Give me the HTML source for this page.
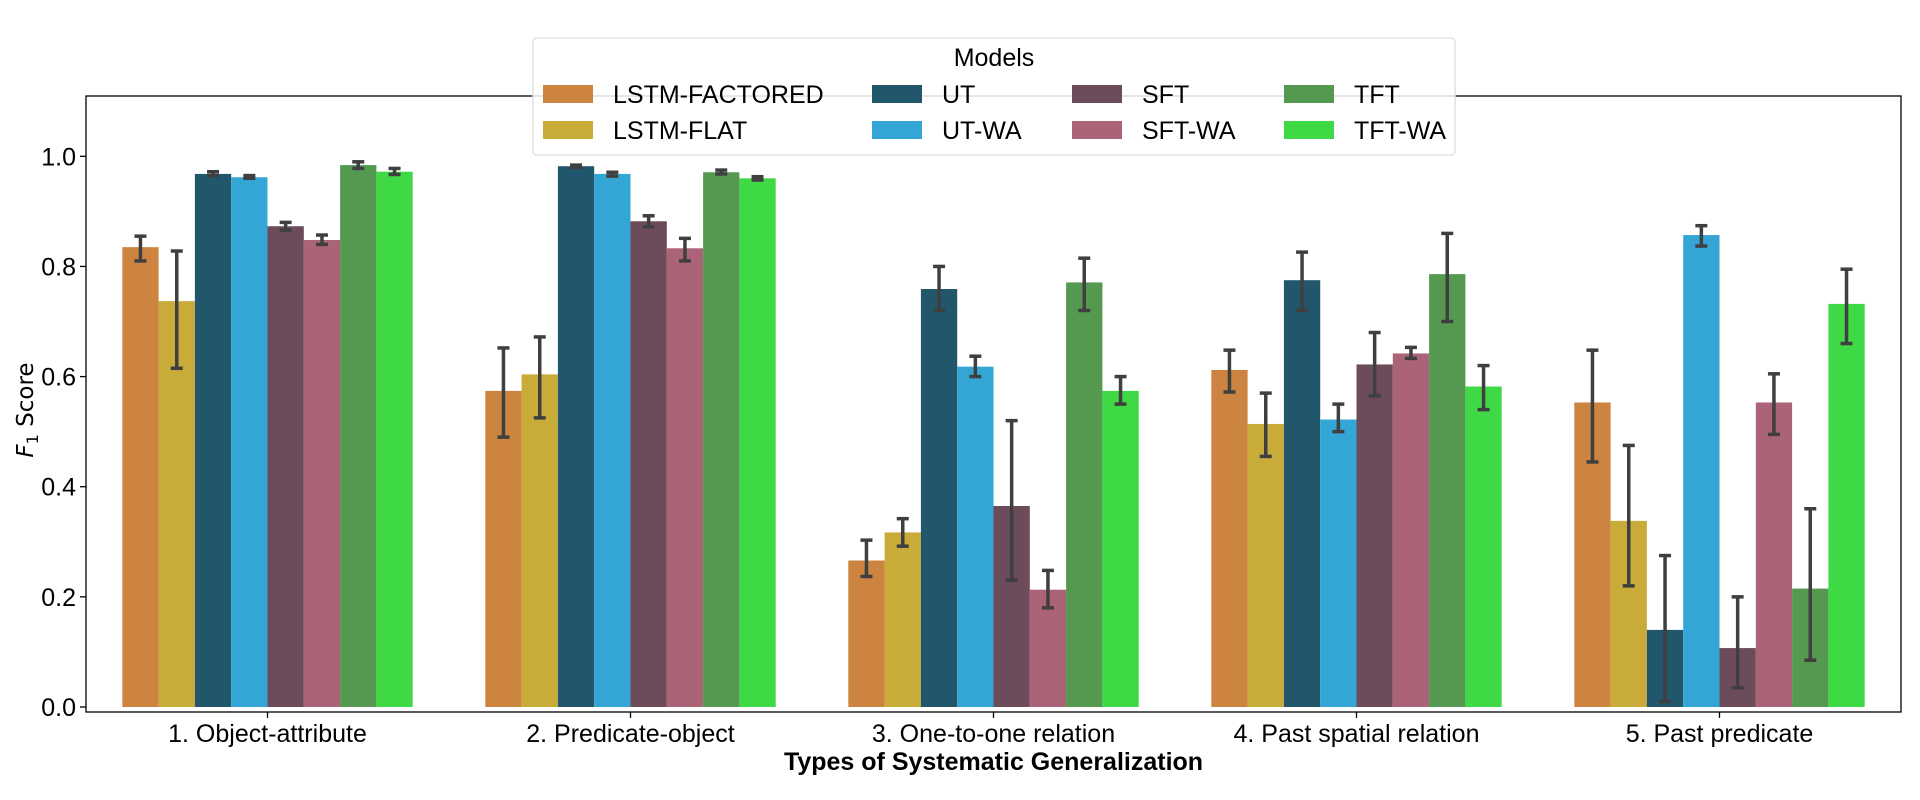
<!DOCTYPE html>
<html><head><meta charset="utf-8">
<style>
html,body{margin:0;padding:0;background:#fff;}
svg{display:block;font-family:"Liberation Sans",sans-serif;}
</style></head>
<body>
<svg id="chart" width="1920" height="800" viewBox="0 0 1920 800" xmlns="http://www.w3.org/2000/svg">
<g id="bars"></g>
<g id="axes"></g>
<g id="legend"></g>
</svg>
<script>
const categories = ["1. Object-attribute","2. Predicate-object","3. One-to-one relation","4. Past spatial relation","5. Past predicate"];
const models = ["LSTM-FACTORED","LSTM-FLAT","UT","UT-WA","SFT","SFT-WA","TFT","TFT-WA"];
const colors = ["#cc8440","#c9ab3a","#22566b","#34a6d6","#6c4b5a","#ab6378","#54994f","#3fd946"];
const valLSTMF = [0.835,0.574,0.266,0.612,0.553];
const valLSTMFlat = [0.737,0.604,0.317,0.514,0.338];
const valUT = [0.968,0.982,0.759,0.775,0.140];
const valUTWA = [0.962,0.968,0.618,0.522,0.857];
const valSFT = [0.873,0.882,0.365,0.622,0.107];
const valSFTWA = [0.848,0.833,0.213,0.642,0.553];
const valTFT = [0.984,0.971,0.771,0.786,0.215];
const valTFTWA = [0.972,0.960,0.574,0.582,0.732];
const errLo = [
 [0.810,0.490,0.237,0.572,0.445],
 [0.615,0.525,0.292,0.455,0.220],
 [0.965,0.980,0.720,0.720,0.010],
 [0.960,0.964,0.600,0.500,0.837],
 [0.866,0.872,0.230,0.565,0.035],
 [0.840,0.810,0.180,0.633,0.495],
 [0.978,0.968,0.720,0.700,0.085],
 [0.967,0.957,0.550,0.540,0.660]];
const errHi = [
 [0.855,0.652,0.303,0.648,0.648],
 [0.828,0.672,0.342,0.570,0.475],
 [0.972,0.984,0.800,0.826,0.275],
 [0.965,0.971,0.637,0.550,0.874],
 [0.880,0.892,0.520,0.680,0.200],
 [0.857,0.851,0.248,0.653,0.605],
 [0.990,0.975,0.815,0.860,0.360],
 [0.978,0.963,0.600,0.620,0.795]];
const series = [valLSTMF,valLSTMFlat,valUT,valUTWA,valSFT,valSFTWA,valTFT,valTFTWA];
const yTicks = [0.0,0.2,0.4,0.6,0.8,1.0];

const NS="http://www.w3.org/2000/svg";
const L=86, R=1901, T=96, B=712;
const y0=707, y1=156.3;
function yScale(v){return y0+(y1-y0)*v;}
const unit=(R-L)/categories.length;
function xCenter(i){return L+unit*(i+0.5);}
const bw=unit*0.1;
function mk(tag,attrs,parent,text){const e=document.createElementNS(NS,tag);for(const k in attrs)e.setAttribute(k,attrs[k]);if(text!==undefined)e.textContent=text;parent.appendChild(e);return e;}

const gb=document.getElementById('bars');
series.forEach((vals,m)=>{
  vals.forEach((v,i)=>{
    const x=xCenter(i)-4*bw+m*bw;
    const r=mk('rect',{x:x,y:yScale(v),width:bw,height:yScale(0)-yScale(v),fill:colors[m]},gb);
    
    
  });
});
series.forEach((vals,m)=>{
  vals.forEach((v,i)=>{
    const cx=xCenter(i)-4*bw+m*bw+bw/2;
    const a=yScale(errLo[m][i]), b=yScale(errHi[m][i]);
    const g=mk('g',{stroke:'#3f3f3f','stroke-width':3.5},gb);
    
    
    mk('line',{x1:cx,x2:cx,y1:a,y2:b},g);
    mk('line',{x1:cx-6,x2:cx+6,y1:a,y2:a},g);
    mk('line',{x1:cx-6,x2:cx+6,y1:b,y2:b},g);
  });
});

const ga=document.getElementById('axes');
const frame=mk('rect',{x:L,y:T,width:R-L,height:B-T,fill:'none',stroke:'#000','stroke-width':1.3},ga);


yTicks.forEach(t=>{
  const y=yScale(t);
  mk('line',{x1:L-6,x2:L,y1:y,y2:y,stroke:'#000','stroke-width':1.3},ga);
  const tx=mk('text',{x:L-10,y:y+9,'text-anchor':'end','font-size':25,fill:'#000'},ga,t.toFixed(1));
  
  
});
categories.forEach((c,i)=>{
  const x=xCenter(i);
  mk('line',{x1:x,x2:x,y1:B,y2:B+6,stroke:'#000','stroke-width':1.3},ga);
  const tx=mk('text',{x:x,y:742,'text-anchor':'middle','font-size':25,fill:'#000'},ga,c);
  
  
});
const xt=mk('text',{x:(L+R)/2,y:770,'text-anchor':'middle','font-size':25,'font-weight':'bold',fill:'#000'},ga,'Types of Systematic Generalization');


const yt=mk('text',{x:0,y:0,'text-anchor':'middle','font-size':23,fill:'#000','font-family':'DejaVu Sans, sans-serif',transform:'translate(33,410) rotate(-90)'},ga);


mk('tspan',{'font-style':'italic'},yt,'F');
mk('tspan',{'font-size':16,dy:5},yt,'1');
mk('tspan',{dy:-5},yt,' Score');

const gl=document.getElementById('legend');
const lb=mk('rect',{x:533,y:38,width:922,height:117,rx:4,fill:'rgba(255,255,255,0.85)',stroke:'#ddd','stroke-width':1.3},gl);


const lt=mk('text',{x:994,y:66,'text-anchor':'middle','font-size':25,fill:'#000'},gl,'Models');


const colX=[543,872,1072,1284];
models.forEach((m,k)=>{
  const col=Math.floor(k/2), row=k%2;
  const y=row?130:94;
  const g=mk('g',{},gl);
  
  
  mk('rect',{x:colX[col],y:y-9,width:50,height:18,fill:colors[k]},g);
  mk('text',{x:colX[col]+70,y:y+9,'font-size':25,fill:'#000'},g,m);
});
</script>
</body></html>
